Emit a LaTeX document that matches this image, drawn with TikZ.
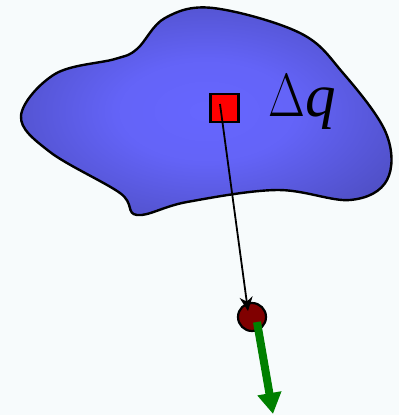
\documentclass[tikz,border=0pt]{standalone}
\usepackage{fontspec}
\newfontfamily\labelfont{Liberation Serif}
\usetikzlibrary{arrows.meta}
\definecolor{bg}{RGB}{247,251,252}
\definecolor{chargered}{RGB}{255,0,0}
\definecolor{pointred}{RGB}{128,0,0}
\definecolor{fieldgreen}{RGB}{0,128,0}
\pgfdeclareradialshading{blobshade}{\pgfpoint{0bp}{0bp}}{rgb(0bp)=(0.4,0.4,1); rgb(12bp)=(0.39,0.39,0.97); rgb(50bp)=(0.22,0.22,0.55); rgb(75bp)=(0.22,0.22,0.55)}
\tikzset{
  blob/.style={draw=black, line width=2.4pt, shading=blobshade},
  chargebox/.style={draw=black, line width=2.2pt, fill=chargered, minimum size=28pt, inner sep=0pt},
  fieldpt/.style={circle, draw=black, line width=2.2pt, fill=pointred, minimum size=28pt, inner sep=0pt},
  sepvec/.style={draw=black, line width=1.8pt, -{Stealth[length=14pt,width=13pt]}},
  fieldvec/.style={draw=fieldgreen, line width=8pt, -{Triangle[length=21pt,width=23pt]}},
  biglabel/.style={font=\fontsize{61}{61}\selectfont, inner sep=0pt, anchor=base west},
}
\begin{document}
\begin{tikzpicture}[x=1pt,y=-1pt]
\fill[bg] (0,0) rectangle (399,415);
\useasboundingbox (0,0) rectangle (399,415);
\path[blob] plot[smooth cycle, tension=0.6] coordinates {
 (21,116) (55,74) (115,59) (137,49) (165,18) (213,8) (300,33) (343,73)
 (386,133) (387,180) (350,200) (277,190) (187,202) (137,215) (120,193) (50,152)};
\node[chargebox] (dq) at (224.5,108) {};
\node[biglabel] (lab) at (268,116) {\scalebox{0.78}[1]{Δ}\kern1pt{\labelfont\itshape q}};
\node[fieldpt] (p) at (252,317) {};
\coordinate (s) at (220,104);
\coordinate (tip) at (248,311);
\draw[sepvec] (s) -- (tip);
\coordinate (e0) at (257,322);
\coordinate (e1) at (273,414);
\draw[fieldvec] (e0) -- (e1);
\end{tikzpicture}
\end{document}
